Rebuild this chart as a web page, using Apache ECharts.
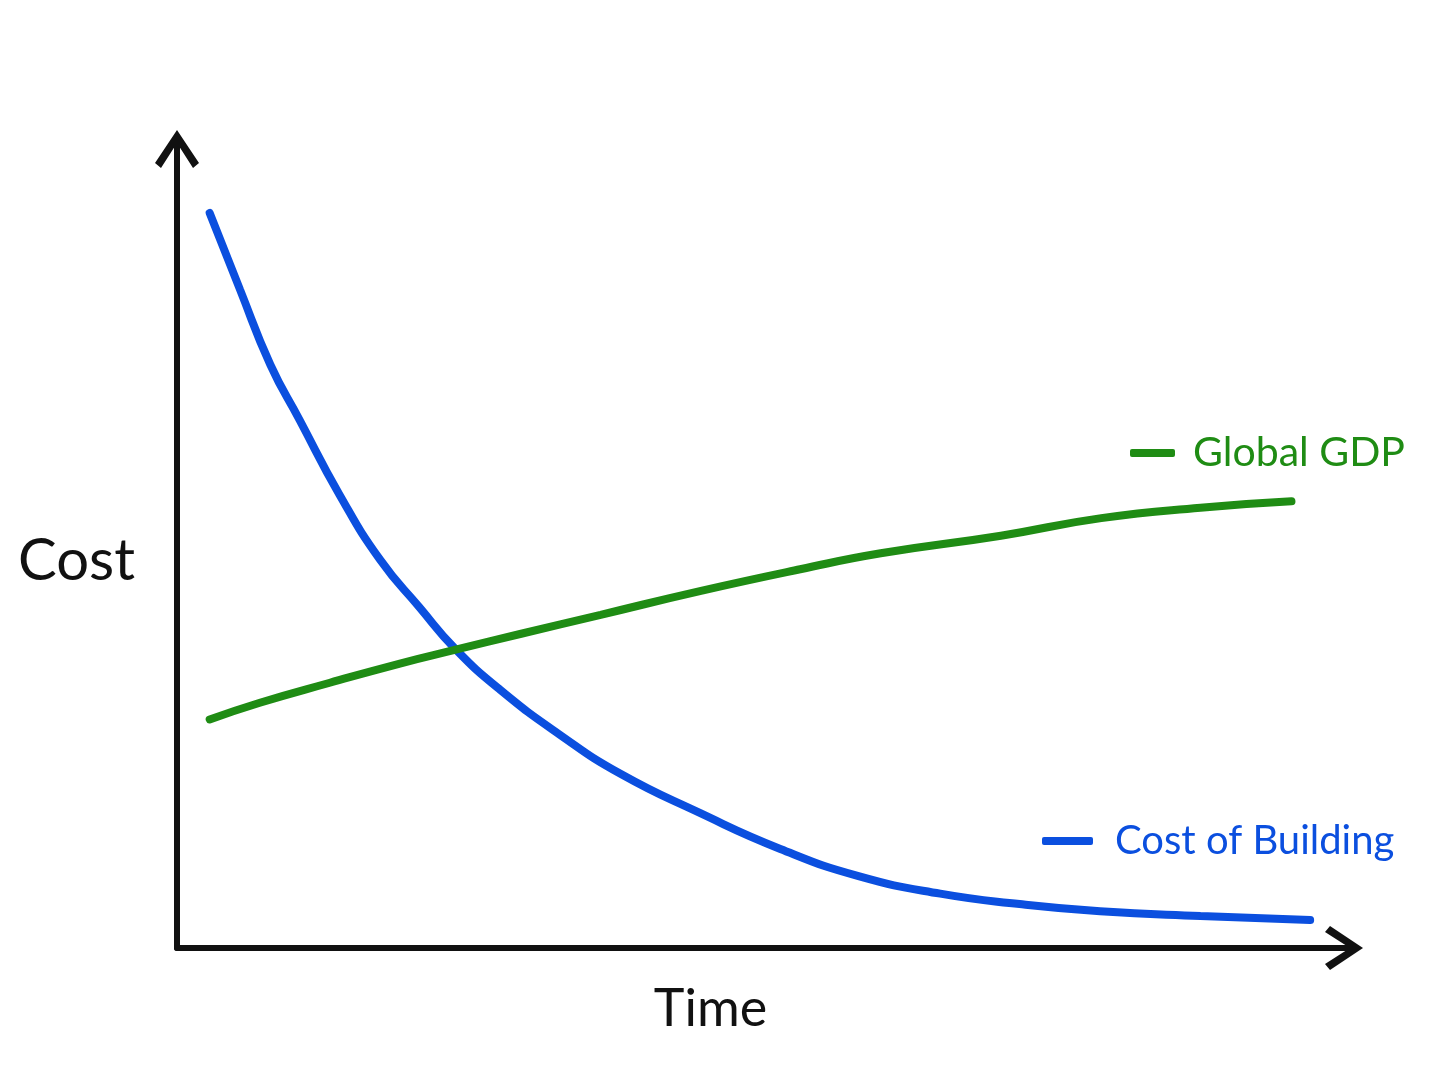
<!DOCTYPE html>
<html>
<head>
<meta charset="utf-8">
<title>Cost vs Time</title>
<script src="https://cdn.jsdelivr.net/npm/echarts@6/dist/echarts.min.js"></script>
<style>
  html, body { margin: 0; padding: 0; background: #fff; }
  #chart { width: 1448px; height: 1086px; }
</style>
</head>
<body>
<div id="chart"></div>
<script>
// values, time and cost both on a 0-100 scale
var buildTime = [2.8, 5.4, 8.0, 10.5, 13.9, 17.4, 20.8, 23.8, 27.7, 32.8, 38.0, 44.8, 51.7, 58.4, 65.4, 72.2, 79.1, 87.7, 97.1];
var buildCost = [92.0, 82.4, 73.0, 66.1, 56.8, 48.6, 42.6, 37.5, 32.3, 26.7, 21.8, 16.9, 12.4, 9.0, 6.8, 5.5, 4.6, 4.0, 3.5];
var gdpTime = [2.8, 7.1, 13.1, 19.1, 23.8, 29.4, 36.3, 44.9, 53.4, 60.3, 70.6, 79.2, 87.7, 95.5];
var gdpValue = [28.6, 30.7, 33.2, 35.6, 37.3, 39.3, 41.7, 44.7, 47.4, 49.4, 51.6, 53.8, 55.1, 55.9];

var blue = '#0b4fdf',
    green = '#1f8c14',
    ink = '#111';

function pairs(xs, ys) {
    return xs.map(function(x, i) {
        return [x, ys[i]];
    });
}

// open chevron with a short stem, pointing up (echarts turns it along the axis)
var arrow = 'path://M22,0 L44,33 L38,38 L22,13 L6,38 L0,33 Z M19,8 L25,8 L25,38 L19,38 Z';

var axisCommon = {
    type: 'value',
    min: 0,
    max: 100,
    axisLine: {
        show: true,
        symbol: ['none', arrow],
        symbolSize: [44, 38],
        lineStyle: { color: ink, width: 6, cap: 'round' }
    },
    axisTick: { show: false },
    axisLabel: { show: false },
    splitLine: { show: false },
    nameLocation: 'middle',
    nameTextStyle: { color: ink, fontFamily: 'Lato', fontSize: 54 }
};

var chart = echarts.init(document.getElementById('chart'));
var option = {
    backgroundColor: '#fff',
    animation: false,
    grid: { left: 177, right: 104, top: 149, bottom: 138 },
    xAxis: echarts.util.merge({
        name: 'Time',
        nameGap: 35,
        nameTextStyle: { fontSize: 52, padding: [0, 100, 0, 0] }
    }, axisCommon),
    yAxis: echarts.util.merge({
        name: 'Cost',
        nameGap: 42,
        nameRotate: 0,
        nameTextStyle: { fontSize: 58, verticalAlign: 'top', lineHeight: 25 }
    }, axisCommon),
    legend: [{
        data: ['Global GDP'],
        left: 1125,
        top: 423,
        icon: 'roundRect',
        itemWidth: 45,
        itemHeight: 8,
        selectedMode: false,
        textStyle: { color: green, fontFamily: 'Lato', fontSize: 41, lineHeight: 50, padding: [0, 0, 0, 13] }
    }, {
        data: ['Cost of Building'],
        left: 1037,
        top: 811,
        icon: 'roundRect',
        itemWidth: 51,
        itemHeight: 8,
        selectedMode: false,
        textStyle: { color: blue, fontFamily: 'Lato', fontSize: 40, lineHeight: 50, padding: [0, 0, 0, 17] }
    }],
    series: [{
        name: 'Cost of Building',
        type: 'line',
        data: pairs(buildTime, buildCost),
        smooth: 0.5,
        showSymbol: false,
        color: blue,
        lineStyle: { color: blue, width: 8, cap: 'round' }
    }, {
        name: 'Global GDP',
        type: 'line',
        data: pairs(gdpTime, gdpValue),
        smooth: 0.5,
        showSymbol: false,
        color: green,
        lineStyle: { color: green, width: 8, cap: 'round' }
    }]
};
chart.setOption(option);
</script>
</body>
</html>
